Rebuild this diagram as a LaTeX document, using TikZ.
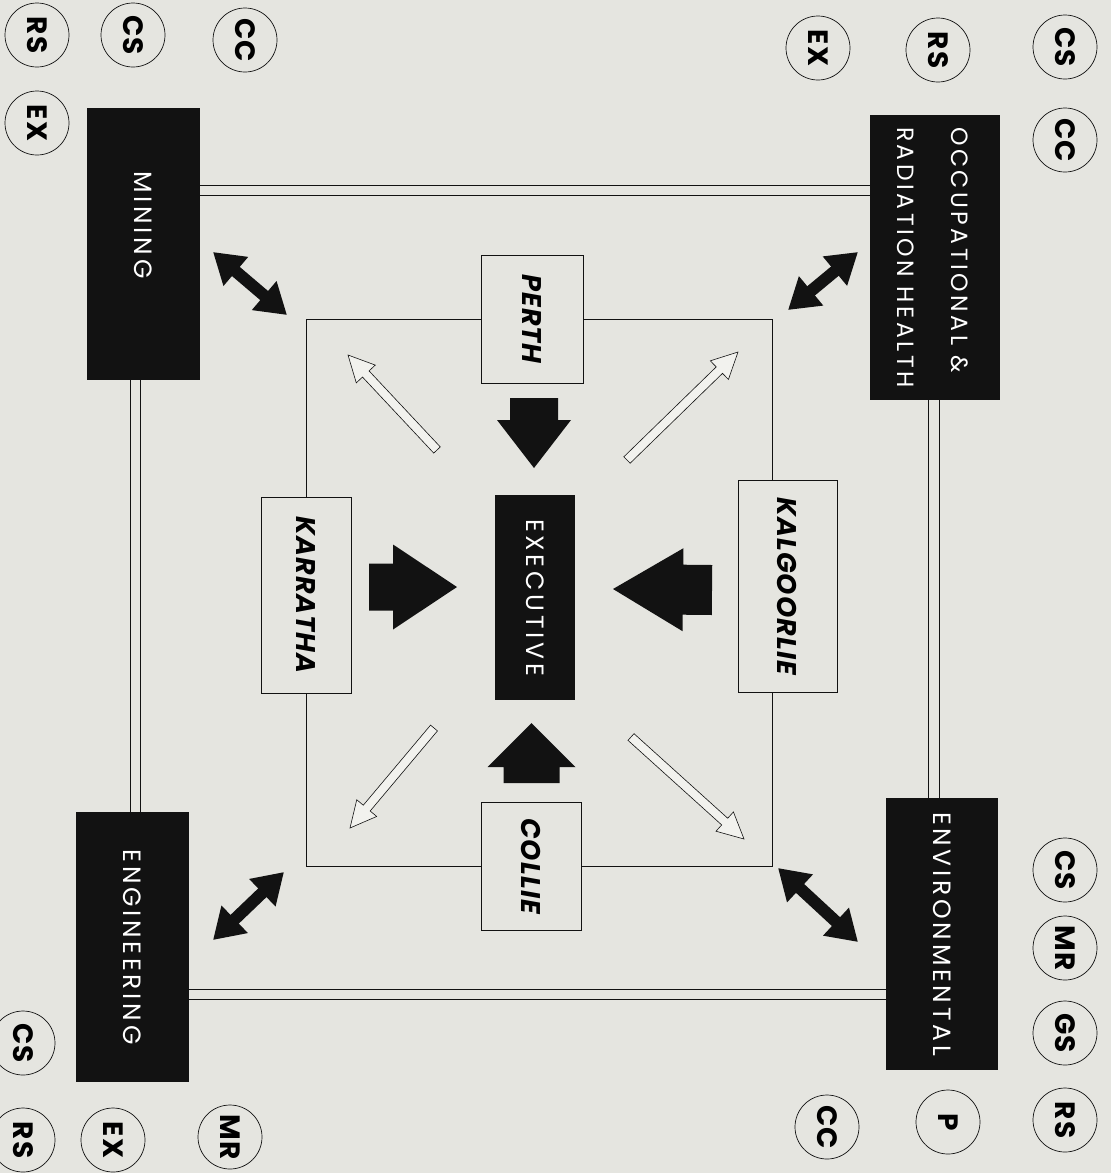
\documentclass[tikz,border=0pt]{standalone}
\usepackage{fontspec}
\usepackage{graphicx}
\usepackage{tikz}
\usetikzlibrary{positioning}
\usetikzlibrary{calc}
\usetikzlibrary{arrows.meta}

\newfontfamily\boxfont[LetterSpace=15]{Poppins}
\newfontfamily\tagfont[LetterSpace=4]{Poppins}
\definecolor{paper}{RGB}{229,229,224}
\definecolor{ink}{RGB}{18,18,18}
\definecolor{hollow}{RGB}{242,242,238}

\newcommand{\vlab}[1]{\rotatebox{-90}{#1}}
% style, tail, tip, half shaft, half head, head length
\newcommand{\blockarrow}[6]{%
  \coordinate (ba) at ($(#3)!#6!(#2)$);
  \path[#1] ($(#2)!#4!90:(#3)$) -- ($(ba)!#4!90:(#3)$) -- ($(ba)!#5!90:(#3)$) -- (#3)
    -- ($(ba)!#5!-90:(#3)$) -- ($(ba)!#4!-90:(#3)$) -- ($(#2)!#4!-90:(#3)$) -- cycle;}

\begin{document}
\begin{tikzpicture}[x=1pt, y=-1pt,
  unit/.style={rectangle, fill=ink, text=white, inner sep=0pt, font=\boxfont\fontsize{25}{54}\selectfont},
  site/.style={rectangle, draw=ink, line width=0.8pt, fill=paper, inner sep=0pt, font=\tagfont\bfseries\itshape\fontsize{27}{30}\selectfont},
  tag/.style={circle, draw=ink, line width=0.7pt, minimum size=64pt, inner sep=0pt, font=\tagfont\bfseries\fontsize{28}{30}\selectfont},
  wire/.style={draw=ink, line width=0.8pt},
  twoway/.style={draw=ink, line width=12pt, {Triangle[length=30pt,width=36pt]}-{Triangle[length=30pt,width=36pt]}},
  solidarrow/.style={fill=ink},
  openarrow/.style={draw=ink, line width=0.6pt, fill=hollow}]

\useasboundingbox (0,0) rectangle (1111,1173);
\fill[paper] (0,0) rectangle (1111,1173);

% divisions
\node[unit, minimum width=113pt, minimum height=272pt] (mining) at (143.5,244) {\vlab{MINING\hspace*{38pt}}};
\node[unit, minimum width=130pt, minimum height=285pt] (ohealth) at (935,257.5)
  {\vlab{\fontsize{23.5}{54}\selectfont\begin{tabular}{@{}l@{}}OCCUPATIONAL \&\\RADIATION HEALTH\end{tabular}}};
\node[unit, minimum width=113pt, minimum height=270pt] (engineering) at (132.5,947) {\vlab{ENGINEERING}};
\node[unit, minimum width=112pt, minimum height=272pt] (environ) at (942,934) {\vlab{ENVIRONMENTAL}};
\node[unit, minimum width=80pt, minimum height=205pt] (executive) at (535,597.5) {\vlab{EXECUTIVE}};

% double rails between divisions
\coordinate (ta) at ([yshift=59pt]mining.east);
\coordinate (tb) at ([yshift=49pt]mining.east);
\coordinate (la) at ([xshift=-13.5pt]mining.south);
\coordinate (lb) at ([xshift=-3.5pt]mining.south);
\coordinate (ra) at ([xshift=-7pt]ohealth.south);
\coordinate (rb) at ([xshift=4pt]ohealth.south);
\coordinate (ba1) at ([yshift=-42pt]engineering.east);
\coordinate (ba2) at ([yshift=-52pt]engineering.east);
\draw[wire] (ta) -- (ta -| ohealth.west);
\draw[wire] (tb) -- (tb -| ohealth.west);
\draw[wire] (la) -- (la |- engineering.north);
\draw[wire] (lb) -- (lb |- engineering.north);
\draw[wire] (ra) -- (ra |- environ.north);
\draw[wire] (rb) -- (rb |- environ.north);
\draw[wire] (ba1) -- (ba1 -| environ.west);
\draw[wire] (ba2) -- (ba2 -| environ.west);

% offices
\node[site, minimum width=102pt, minimum height=128pt] (perth) at (532,319) {\vlab{PERTH}};
\node[site, minimum width=90pt, minimum height=196pt] (karratha) at (306,595) {\vlab{KARRATHA}};
\node[site, minimum width=99pt, minimum height=212pt] (kalgoorlie) at (787.5,586) {\vlab{KALGOORLIE}};
\node[site, minimum width=100pt, minimum height=128pt] (collie) at (531,866) {\vlab{COLLIE}};

\draw[wire] (perth.west) -| (karratha.north);
\draw[wire] (perth.east) -| ([xshift=-15.5pt]kalgoorlie.north);
\draw[wire] (karratha.south) |- (collie.west);
\draw[wire] (collie.east) -| ([xshift=-15.5pt]kalgoorlie.south);

% sections
\node[tag] (mi-rs) at (37,35) {\vlab{RS}};
\node[tag] (mi-cs) at (133,35) {\vlab{CS}};
\node[tag] (mi-cc) at (245,40) {\vlab{CC}};
\node[tag] (mi-ex) at (37,123) {\vlab{EX}};
\node[tag] (oh-ex) at (818,48) {\vlab{EX}};
\node[tag] (oh-rs) at (938,50) {\vlab{RS}};
\node[tag] (oh-cs) at (1065,47) {\vlab{CS}};
\node[tag] (oh-cc) at (1065,140) {\vlab{CC}};
\node[tag] (en-cs) at (23,1043) {\vlab{CS}};
\node[tag] (en-rs) at (23,1140) {\vlab{RS}};
\node[tag] (en-ex) at (113,1140) {\vlab{EX}};
\node[tag] (en-mr) at (230,1137) {\vlab{MR}};
\node[tag] (ev-cs) at (1065,870) {\vlab{CS}};
\node[tag] (ev-mr) at (1065,948) {\vlab{MR}};
\node[tag] (ev-gs) at (1065,1033) {\vlab{GS}};
\node[tag] (ev-rs) at (1065,1120) {\vlab{RS}};
\node[tag] (ev-p) at (948,1122) {\vlab{P}};
\node[tag] (ev-cc) at (827,1127) {\vlab{CC}};

% into executive
\coordinate (pt) at (534,398); \coordinate (ph) at (534,468);
\coordinate (ct) at (531.5,783); \coordinate (ch) at (531.5,723);
\coordinate (kt) at (369,587); \coordinate (kh) at (457,587);
\coordinate (gt) at (712,590); \coordinate (gh) at (613,589);
\blockarrow{solidarrow}{pt}{ph}{24pt}{37pt}{48pt}
\blockarrow{solidarrow}{ct}{ch}{28pt}{44pt}{44pt}
\blockarrow{solidarrow}{kt}{kh}{23.5pt}{42.5pt}{64pt}
\blockarrow{solidarrow}{gt}{gh}{25pt}{41.5pt}{70pt}

% out from executive
\coordinate (o1t) at (437,450); \coordinate (o1h) at (348,355);
\coordinate (o2t) at (627,460); \coordinate (o2h) at (738,352);
\coordinate (o3t) at (434,728); \coordinate (o3h) at (350,828);
\coordinate (o4t) at (631,737); \coordinate (o4h) at (744,839);
\blockarrow{openarrow}{o1t}{o1h}{4.5pt}{13pt}{26pt}
\blockarrow{openarrow}{o2t}{o2h}{4.5pt}{13pt}{26pt}
\blockarrow{openarrow}{o3t}{o3h}{4.5pt}{13pt}{26pt}
\blockarrow{openarrow}{o4t}{o4h}{4.5pt}{13pt}{26pt}

% divisions to offices
\coordinate (m1) at (213,252); \coordinate (m2) at (287,315);
\coordinate (h1) at (858,252); \coordinate (h2) at (788,310);
\coordinate (e1) at (213,940); \coordinate (e2) at (284,872);
\coordinate (v1) at (778,868); \coordinate (v2) at (858,942);
\draw[twoway] (m1) -- (m2);
\draw[twoway] (h1) -- (h2);
\draw[twoway] (e1) -- (e2);
\draw[twoway] (v1) -- (v2);
\end{tikzpicture}
\end{document}
